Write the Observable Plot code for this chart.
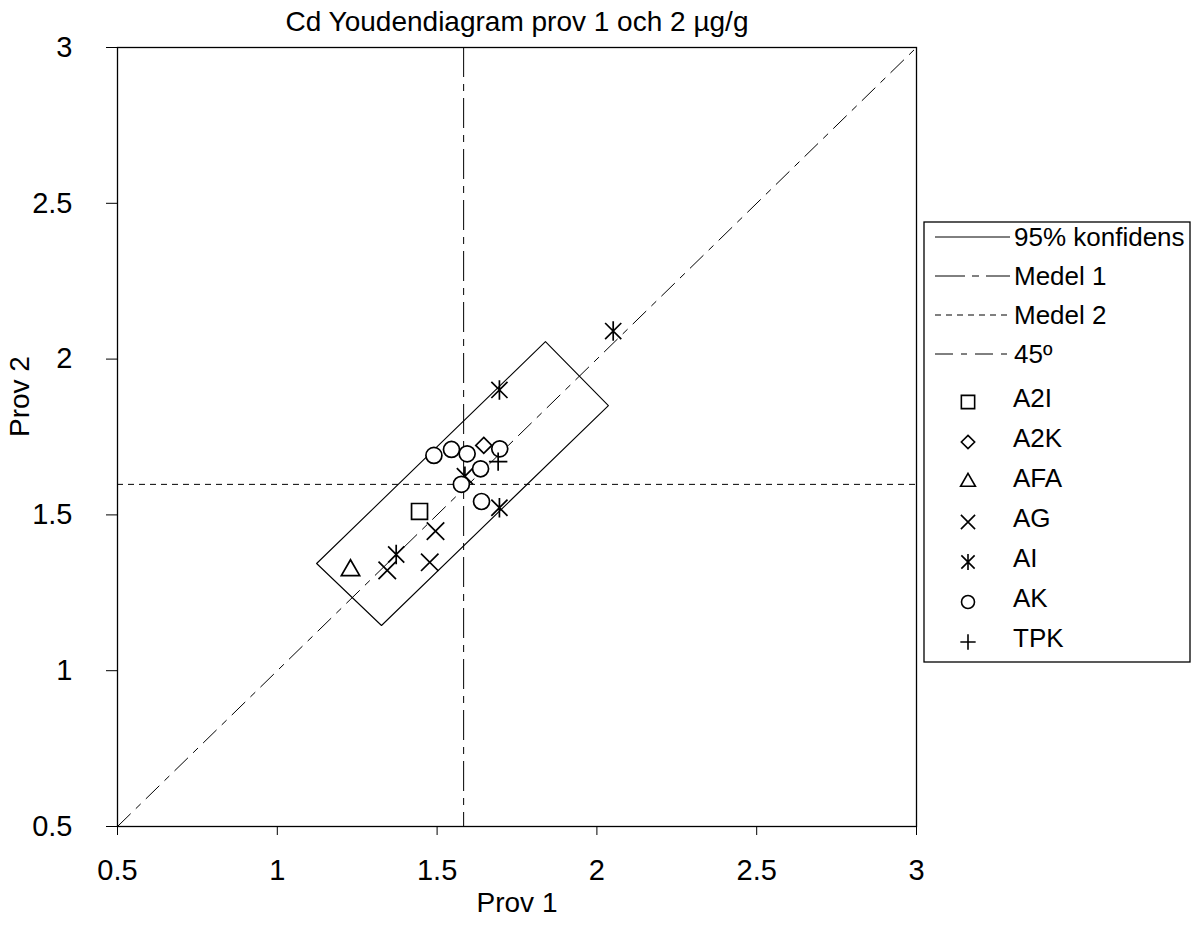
<!DOCTYPE html>
<html>
<head>
<meta charset="utf-8">
<script src="https://cdn.jsdelivr.net/npm/d3@7"></script>
<script src="https://cdn.jsdelivr.net/npm/@observablehq/plot@0.6"></script>
<style>
  html, body { margin: 0; padding: 0; background: #fff; }
  #chart { position: relative; width: 1192px; height: 934px; }
</style>
</head>
<body>
<div id="chart"></div>
<script>
// ---- data ----
const title = "Cd Youdendiagram prov 1 och 2 µg/g";
const xLabel = "Prov 1";
const yLabel = "Prov 2";
const xTicks = [0.5, 1, 1.5, 2, 2.5, 3];
const yTicks = [0.5, 1, 1.5, 2, 2.5, 3];
const medel1 = 1.583;
const medel2 = 1.598;
const line45 = [[0.5, 0.5], [3, 3]];
const confidenceBox = [[1.123, 1.344], [1.839, 2.056], [2.036, 1.851], [1.326, 1.145], [1.123, 1.344]];
const lineLegend = ["95% konfidens", "Medel 1", "Medel 2", "45º"];
const labs = ["A2I", "A2K", "AFA", "AG", "AI", "AK", "TPK"];
const A2I = [[1.445, 1.511]];
const A2K = [[1.646, 1.723]];
const AFA = [[1.229, 1.322]];
const AG = [[1.495, 1.448], [1.477, 1.348], [1.344, 1.322]];
const AI = [[2.051, 2.090], [1.695, 1.901], [1.695, 1.523], [1.372, 1.373], [1.587, 1.624]];
const AK = [[1.490, 1.691], [1.545, 1.710], [1.594, 1.696], [1.696, 1.712], [1.636, 1.648], [1.576, 1.598], [1.639, 1.543]];
const TPK = [[1.691, 1.671]];

// ---- styles ----
const seriesData = {A2I, A2K, AFA, AG, AI, AK, TPK};
// custom asterisk: X plus vertical bar
const asteriskX = {
  draw(context, size) {
    const r = Math.sqrt(size / Math.PI);
    const a = r * 0.95;
    context.moveTo(-a, -a); context.lineTo(a, a);
    context.moveTo(-a, a); context.lineTo(a, -a);
    context.moveTo(0, -r * 1.15); context.lineTo(0, r * 1.15);
  }
};
const symbolStyle = {
  A2I: {symbol: d3.symbolSquare, r: 9, lr: 7.5, fill: "white"},
  A2K: {symbol: d3.symbolDiamond2, r: 7.2, lr: 6, fill: "white"},
  AFA: {symbol: d3.symbolTriangle, r: 6.8, lr: 5.5, fill: "white"},
  AG: {symbol: d3.symbolTimes, r: 8, lr: 6.5, fill: "none"},
  AI: {symbol: asteriskX, r: 8.5, lr: 7, fill: "none"},
  AK: {symbol: d3.symbolCircle, r: 8, lr: 6.5, fill: "white"},
  TPK: {symbol: d3.symbolPlus, r: 6, lr: 5, fill: "none"}
};
const dashes = {
  "95% konfidens": null,
  "Medel 1": "30,7,7,7",
  "Medel 2": "6,5",
  "45º": "18,8,6,8"
};
const FONT = "'Liberation Sans', Arial, sans-serif";

const W = 1192, H = 934;
const mL = 117, mR = 276, mT = 47, mB = 108;

const dotMarks = labs.map(name => Plot.dot(seriesData[name], {
  x: d => d[0], y: d => d[1],
  symbol: symbolStyle[name].symbol,
  r: symbolStyle[name].r,
  stroke: "black", strokeWidth: 1.7,
  fill: symbolStyle[name].fill
}));

const plot = Plot.plot({
  width: W, height: H,
  marginLeft: mL, marginRight: mR, marginTop: mT, marginBottom: mB,
  style: {fontFamily: FONT, fontSize: "29px", color: "black", background: "white"},
  x: {domain: [0.5, 3], label: null},
  y: {domain: [0.5, 3], label: null},
  marks: [
    Plot.axisX({ticks: xTicks, tickFormat: d => String(d), tickSize: 9, tickPadding: 24, fontSize: 29, label: null}),
    Plot.axisY({ticks: yTicks, tickFormat: d => String(d), tickSize: 11, tickPadding: 34, fontSize: 29, label: null}),
    Plot.ruleX([medel1], {stroke: "black", strokeWidth: 1, strokeDasharray: dashes["Medel 1"]}),
    Plot.ruleY([medel2], {stroke: "black", strokeWidth: 1, strokeDasharray: dashes["Medel 2"]}),
    Plot.line(line45, {x: d => d[0], y: d => d[1], stroke: "black", strokeWidth: 1, strokeDasharray: dashes["45º"]}),
    Plot.line(confidenceBox, {x: d => d[0], y: d => d[1], stroke: "black", strokeWidth: 1.1}),
    ...dotMarks,
    Plot.frame({stroke: "black", strokeWidth: 1.3}),
    Plot.text([title], {frameAnchor: "top", lineAnchor: "middle", dy: -25, fontSize: 28, fill: "black"}),
    Plot.text([xLabel], {frameAnchor: "bottom", lineAnchor: "middle", dy: 77, fontSize: 28, fill: "black"}),
    Plot.text([yLabel], {frameAnchor: "left", lineAnchor: "middle", dx: -97, rotate: -90, fontSize: 28, fill: "black"})
  ]
});
document.getElementById("chart").appendChild(plot);

// ---- legend ----
const svg = d3.select(plot);
const lg = svg.append("g").attr("font-family", FONT).attr("font-size", 26)
  .attr("fill", "black").attr("text-anchor", "start");
lg.append("rect").attr("x", 924).attr("y", 222).attr("width", 266).attr("height", 440)
  .attr("fill", "white").attr("stroke", "black").attr("stroke-width", 1.3);
const lineRows = [237, 276, 315, 354];
lineLegend.forEach((name, i) => {
  const y = lineRows[i];
  lg.append("line").attr("x1", 935).attr("x2", 1010).attr("y1", y).attr("y2", y)
    .attr("stroke", "black").attr("stroke-width", 1)
    .attr("stroke-dasharray", dashes[name]);
  lg.append("text").attr("x", 1014).attr("y", y).attr("dy", "0.35em").text(name);
});
labs.forEach((name, i) => {
  const y = 398 + i * 40;
  const st = symbolStyle[name];
  lg.append("path")
    .attr("transform", `translate(968,${y + 4})`)
    .attr("d", d3.symbol(st.symbol, Math.PI * st.lr * st.lr)())
    .attr("fill", st.fill)
    .attr("stroke", "black").attr("stroke-width", 1.6);
  lg.append("text").attr("x", 1013).attr("y", y).attr("dy", "0.35em").text(name);
});
</script>
</body>
</html>
